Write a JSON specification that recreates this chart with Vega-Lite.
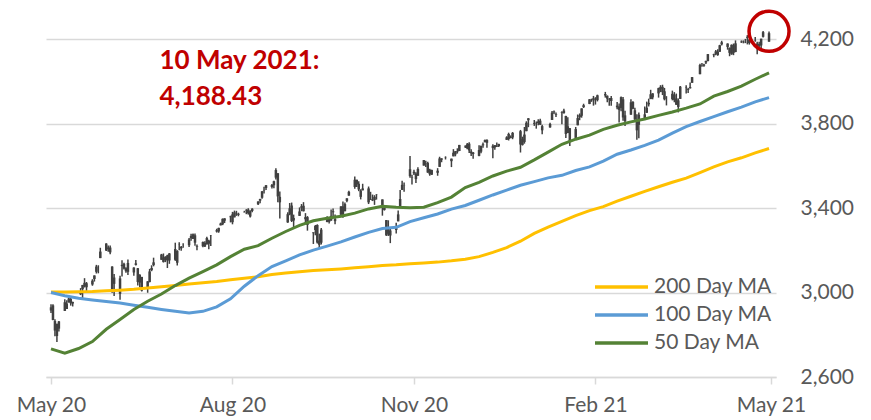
{
"$schema": "https://vega.github.io/schema/vega-lite/v6.json",
"width": 730, "height": 359,
"autosize": {"type": "none"},
"padding": {"left": 46, "top": 18, "right": 95, "bottom": 43},
"background": "white",
"config": {"view": {"stroke": null}, "font": "Lato"},
"datasets": {
"ohlc": [
{"d":"2020-05-11","o":2915,"h":2944,"l":2903,"c":2930},
{"d":"2020-05-12","o":2939,"h":2945,"l":2869,"c":2870},
{"d":"2020-05-13","o":2865,"h":2874,"l":2793,"c":2820},
{"d":"2020-05-14","o":2794,"h":2852,"l":2766,"c":2852},
{"d":"2020-05-15","o":2829,"h":2865,"l":2816,"c":2863},
{"d":"2020-05-18","o":2913,"h":2968,"l":2913,"c":2954},
{"d":"2020-05-19","o":2948,"h":2964,"l":2922,"c":2922},
{"d":"2020-05-20","o":2953,"h":2981,"l":2953,"c":2972},
{"d":"2020-05-21","o":2970,"h":2978,"l":2938,"c":2949},
{"d":"2020-05-22","o":2948,"h":2957,"l":2934,"c":2955},
{"d":"2020-05-26","o":3004,"h":3021,"l":2988,"c":2992},
{"d":"2020-05-27","o":3016,"h":3036,"l":2970,"c":3036},
{"d":"2020-05-28","o":3046,"h":3068,"l":3024,"c":3030},
{"d":"2020-05-29","o":3025,"h":3050,"l":2998,"c":3044},
{"d":"2020-06-01","o":3038,"h":3063,"l":3032,"c":3056},
{"d":"2020-06-02","o":3064,"h":3081,"l":3052,"c":3081},
{"d":"2020-06-03","o":3098,"h":3131,"l":3090,"c":3123},
{"d":"2020-06-04","o":3112,"h":3129,"l":3091,"c":3112},
{"d":"2020-06-05","o":3163,"h":3212,"l":3163,"c":3194},
{"d":"2020-06-08","o":3199,"h":3233,"l":3197,"c":3232},
{"d":"2020-06-09","o":3213,"h":3223,"l":3193,"c":3207},
{"d":"2020-06-10","o":3213,"h":3223,"l":3181,"c":3190},
{"d":"2020-06-11","o":3123,"h":3124,"l":2999,"c":3002},
{"d":"2020-06-12","o":3071,"h":3088,"l":2984,"c":3041},
{"d":"2020-06-15","o":2994,"h":3079,"l":2966,"c":3067},
{"d":"2020-06-16","o":3131,"h":3153,"l":3076,"c":3125},
{"d":"2020-06-17","o":3136,"h":3141,"l":3109,"c":3113},
{"d":"2020-06-18","o":3101,"h":3120,"l":3094,"c":3115},
{"d":"2020-06-19","o":3140,"h":3156,"l":3083,"c":3098},
{"d":"2020-06-22","o":3095,"h":3120,"l":3079,"c":3118},
{"d":"2020-06-23","o":3138,"h":3154,"l":3128,"c":3131},
{"d":"2020-06-24","o":3115,"h":3116,"l":3033,"c":3050},
{"d":"2020-06-25","o":3047,"h":3086,"l":3025,"c":3084},
{"d":"2020-06-26","o":3074,"h":3074,"l":3005,"c":3009},
{"d":"2020-06-29","o":3019,"h":3054,"l":2999,"c":3053},
{"d":"2020-06-30","o":3050,"h":3112,"l":3048,"c":3100},
{"d":"2020-07-01","o":3106,"h":3129,"l":3101,"c":3116},
{"d":"2020-07-02","o":3143,"h":3165,"l":3124,"c":3130},
{"d":"2020-07-06","o":3155,"h":3183,"l":3155,"c":3180},
{"d":"2020-07-07","o":3166,"h":3185,"l":3142,"c":3145},
{"d":"2020-07-08","o":3154,"h":3172,"l":3144,"c":3169},
{"d":"2020-07-09","o":3176,"h":3179,"l":3116,"c":3152},
{"d":"2020-07-10","o":3152,"h":3187,"l":3136,"c":3185},
{"d":"2020-07-13","o":3206,"h":3236,"l":3150,"c":3155},
{"d":"2020-07-14","o":3141,"h":3200,"l":3128,"c":3197},
{"d":"2020-07-15","o":3226,"h":3238,"l":3200,"c":3227},
{"d":"2020-07-16","o":3209,"h":3220,"l":3198,"c":3216},
{"d":"2020-07-17","o":3225,"h":3233,"l":3212,"c":3225},
{"d":"2020-07-20","o":3224,"h":3258,"l":3216,"c":3251},
{"d":"2020-07-21","o":3268,"h":3278,"l":3245,"c":3257},
{"d":"2020-07-22","o":3254,"h":3280,"l":3253,"c":3276},
{"d":"2020-07-23","o":3271,"h":3279,"l":3222,"c":3236},
{"d":"2020-07-24","o":3219,"h":3228,"l":3200,"c":3216},
{"d":"2020-07-27","o":3219,"h":3242,"l":3215,"c":3239},
{"d":"2020-07-28","o":3235,"h":3243,"l":3216,"c":3218},
{"d":"2020-07-29","o":3228,"h":3264,"l":3227,"c":3258},
{"d":"2020-07-30","o":3231,"h":3250,"l":3205,"c":3246},
{"d":"2020-07-31","o":3270,"h":3272,"l":3220,"c":3271},
{"d":"2020-08-03","o":3289,"h":3302,"l":3284,"c":3295},
{"d":"2020-08-04","o":3289,"h":3307,"l":3283,"c":3306},
{"d":"2020-08-05","o":3318,"h":3331,"l":3318,"c":3327},
{"d":"2020-08-06","o":3323,"h":3351,"l":3319,"c":3349},
{"d":"2020-08-07","o":3340,"h":3352,"l":3329,"c":3351},
{"d":"2020-08-10","o":3357,"h":3364,"l":3332,"c":3360},
{"d":"2020-08-11","o":3370,"h":3382,"l":3323,"c":3333},
{"d":"2020-08-12","o":3356,"h":3388,"l":3356,"c":3380},
{"d":"2020-08-13","o":3372,"h":3387,"l":3363,"c":3373},
{"d":"2020-08-14","o":3368,"h":3378,"l":3361,"c":3373},
{"d":"2020-08-17","o":3380,"h":3387,"l":3379,"c":3381},
{"d":"2020-08-18","o":3388,"h":3395,"l":3371,"c":3390},
{"d":"2020-08-19","o":3393,"h":3399,"l":3369,"c":3375},
{"d":"2020-08-20","o":3360,"h":3390,"l":3355,"c":3385},
{"d":"2020-08-21","o":3386,"h":3399,"l":3380,"c":3397},
{"d":"2020-08-24","o":3418,"h":3432,"l":3414,"c":3431},
{"d":"2020-08-25","o":3435,"h":3444,"l":3423,"c":3443},
{"d":"2020-08-26","o":3449,"h":3481,"l":3444,"c":3479},
{"d":"2020-08-27","o":3486,"h":3501,"l":3469,"c":3484},
{"d":"2020-08-28","o":3495,"h":3509,"l":3485,"c":3508},
{"d":"2020-08-31","o":3509,"h":3514,"l":3493,"c":3500},
{"d":"2020-09-01","o":3508,"h":3529,"l":3494,"c":3527},
{"d":"2020-09-02","o":3544,"h":3588,"l":3535,"c":3580},
{"d":"2020-09-03","o":3565,"h":3565,"l":3427,"c":3455},
{"d":"2020-09-04","o":3453,"h":3479,"l":3350,"c":3427},
{"d":"2020-09-08","o":3371,"h":3380,"l":3330,"c":3332},
{"d":"2020-09-09","o":3370,"h":3424,"l":3366,"c":3399},
{"d":"2020-09-10","o":3412,"h":3426,"l":3334,"c":3339},
{"d":"2020-09-11","o":3353,"h":3369,"l":3310,"c":3341},
{"d":"2020-09-14","o":3363,"h":3403,"l":3363,"c":3384},
{"d":"2020-09-15","o":3408,"h":3419,"l":3385,"c":3401},
{"d":"2020-09-16","o":3411,"h":3428,"l":3384,"c":3385},
{"d":"2020-09-17","o":3347,"h":3376,"l":3328,"c":3357},
{"d":"2020-09-18","o":3357,"h":3362,"l":3293,"c":3320},
{"d":"2020-09-21","o":3285,"h":3285,"l":3230,"c":3281},
{"d":"2020-09-22","o":3296,"h":3320,"l":3271,"c":3315},
{"d":"2020-09-23","o":3320,"h":3323,"l":3232,"c":3237},
{"d":"2020-09-24","o":3226,"h":3279,"l":3209,"c":3246},
{"d":"2020-09-25","o":3236,"h":3306,"l":3228,"c":3298},
{"d":"2020-09-28","o":3334,"h":3361,"l":3333,"c":3351},
{"d":"2020-09-29","o":3350,"h":3357,"l":3327,"c":3335},
{"d":"2020-09-30","o":3341,"h":3393,"l":3340,"c":3363},
{"d":"2020-10-01","o":3385,"h":3398,"l":3362,"c":3380},
{"d":"2020-10-02","o":3338,"h":3369,"l":3323,"c":3348},
{"d":"2020-10-05","o":3368,"h":3409,"l":3368,"c":3408},
{"d":"2020-10-06","o":3408,"h":3431,"l":3354,"c":3361},
{"d":"2020-10-07","o":3385,"h":3426,"l":3385,"c":3419},
{"d":"2020-10-08","o":3434,"h":3447,"l":3428,"c":3446},
{"d":"2020-10-09","o":3459,"h":3482,"l":3458,"c":3477},
{"d":"2020-10-12","o":3500,"h":3550,"l":3492,"c":3534},
{"d":"2020-10-13","o":3534,"h":3534,"l":3500,"c":3512},
{"d":"2020-10-14","o":3515,"h":3527,"l":3480,"c":3488},
{"d":"2020-10-15","o":3453,"h":3489,"l":3441,"c":3483},
{"d":"2020-10-16","o":3493,"h":3515,"l":3484,"c":3484},
{"d":"2020-10-19","o":3493,"h":3502,"l":3419,"c":3427},
{"d":"2020-10-20","o":3439,"h":3477,"l":3439,"c":3443},
{"d":"2020-10-21","o":3439,"h":3464,"l":3433,"c":3436},
{"d":"2020-10-22","o":3438,"h":3461,"l":3415,"c":3453},
{"d":"2020-10-23","o":3464,"h":3466,"l":3440,"c":3465},
{"d":"2020-10-26","o":3441,"h":3441,"l":3364,"c":3401},
{"d":"2020-10-27","o":3404,"h":3409,"l":3388,"c":3391},
{"d":"2020-10-28","o":3343,"h":3343,"l":3268,"c":3271},
{"d":"2020-10-29","o":3278,"h":3342,"l":3268,"c":3310},
{"d":"2020-10-30","o":3294,"h":3305,"l":3234,"c":3270},
{"d":"2020-11-02","o":3296,"h":3330,"l":3279,"c":3310},
{"d":"2020-11-03","o":3337,"h":3389,"l":3337,"c":3370},
{"d":"2020-11-04","o":3406,"h":3486,"l":3405,"c":3443},
{"d":"2020-11-05","o":3486,"h":3529,"l":3486,"c":3510},
{"d":"2020-11-06","o":3508,"h":3521,"l":3477,"c":3509},
{"d":"2020-11-09","o":3584,"h":3646,"l":3544,"c":3551},
{"d":"2020-11-10","o":3543,"h":3558,"l":3511,"c":3545},
{"d":"2020-11-11","o":3564,"h":3581,"l":3557,"c":3572},
{"d":"2020-11-12","o":3563,"h":3570,"l":3519,"c":3537},
{"d":"2020-11-13","o":3553,"h":3593,"l":3553,"c":3585},
{"d":"2020-11-16","o":3601,"h":3628,"l":3601,"c":3627},
{"d":"2020-11-17","o":3611,"h":3624,"l":3595,"c":3610},
{"d":"2020-11-18","o":3613,"h":3619,"l":3567,"c":3568},
{"d":"2020-11-19","o":3560,"h":3586,"l":3553,"c":3582},
{"d":"2020-11-20","o":3580,"h":3582,"l":3557,"c":3558},
{"d":"2020-11-23","o":3567,"h":3589,"l":3553,"c":3577},
{"d":"2020-11-24","o":3595,"h":3643,"l":3595,"c":3635},
{"d":"2020-11-25","o":3635,"h":3636,"l":3617,"c":3629},
{"d":"2020-11-27","o":3639,"h":3645,"l":3630,"c":3638},
{"d":"2020-11-30","o":3634,"h":3634,"l":3594,"c":3622},
{"d":"2020-12-01","o":3645,"h":3679,"l":3645,"c":3662},
{"d":"2020-12-02","o":3654,"h":3670,"l":3645,"c":3669},
{"d":"2020-12-03","o":3669,"h":3683,"l":3658,"c":3666},
{"d":"2020-12-04","o":3670,"h":3699,"l":3670,"c":3699},
{"d":"2020-12-07","o":3694,"h":3698,"l":3684,"c":3692},
{"d":"2020-12-08","o":3683,"h":3708,"l":3678,"c":3702},
{"d":"2020-12-09","o":3705,"h":3712,"l":3661,"c":3673},
{"d":"2020-12-10","o":3659,"h":3678,"l":3646,"c":3668},
{"d":"2020-12-11","o":3656,"h":3665,"l":3634,"c":3663},
{"d":"2020-12-14","o":3675,"h":3697,"l":3645,"c":3647},
{"d":"2020-12-15","o":3667,"h":3695,"l":3660,"c":3695},
{"d":"2020-12-16","o":3697,"h":3711,"l":3686,"c":3702},
{"d":"2020-12-17","o":3713,"h":3725,"l":3710,"c":3722},
{"d":"2020-12-18","o":3722,"h":3726,"l":3685,"c":3709},
{"d":"2020-12-21","o":3684,"h":3702,"l":3636,"c":3695},
{"d":"2020-12-22","o":3698,"h":3698,"l":3676,"c":3687},
{"d":"2020-12-23","o":3693,"h":3711,"l":3689,"c":3690},
{"d":"2020-12-24","o":3694,"h":3704,"l":3689,"c":3703},
{"d":"2020-12-28","o":3723,"h":3740,"l":3723,"c":3735},
{"d":"2020-12-29","o":3751,"h":3757,"l":3720,"c":3727},
{"d":"2020-12-30","o":3736,"h":3744,"l":3730,"c":3732},
{"d":"2020-12-31","o":3734,"h":3760,"l":3726,"c":3756},
{"d":"2021-01-04","o":3764,"h":3770,"l":3663,"c":3701},
{"d":"2021-01-05","o":3699,"h":3738,"l":3696,"c":3727},
{"d":"2021-01-06","o":3713,"h":3784,"l":3705,"c":3748},
{"d":"2021-01-07","o":3764,"h":3811,"l":3764,"c":3804},
{"d":"2021-01-08","o":3816,"h":3826,"l":3783,"c":3825},
{"d":"2021-01-11","o":3803,"h":3817,"l":3789,"c":3799},
{"d":"2021-01-12","o":3801,"h":3810,"l":3776,"c":3801},
{"d":"2021-01-13","o":3802,"h":3820,"l":3792,"c":3810},
{"d":"2021-01-14","o":3814,"h":3823,"l":3793,"c":3795},
{"d":"2021-01-15","o":3788,"h":3795,"l":3750,"c":3768},
{"d":"2021-01-19","o":3782,"h":3804,"l":3780,"c":3798},
{"d":"2021-01-20","o":3817,"h":3860,"l":3817,"c":3852},
{"d":"2021-01-21","o":3857,"h":3862,"l":3845,"c":3853},
{"d":"2021-01-22","o":3844,"h":3852,"l":3831,"c":3841},
{"d":"2021-01-25","o":3852,"h":3859,"l":3797,"c":3855},
{"d":"2021-01-26","o":3862,"h":3870,"l":3848,"c":3849},
{"d":"2021-01-27","o":3836,"h":3837,"l":3732,"c":3751},
{"d":"2021-01-28","o":3755,"h":3830,"l":3755,"c":3787},
{"d":"2021-01-29","o":3778,"h":3779,"l":3694,"c":3714},
{"d":"2021-02-01","o":3732,"h":3784,"l":3725,"c":3774},
{"d":"2021-02-02","o":3792,"h":3843,"l":3792,"c":3826},
{"d":"2021-02-03","o":3840,"h":3848,"l":3816,"c":3830},
{"d":"2021-02-04","o":3837,"h":3872,"l":3828,"c":3872},
{"d":"2021-02-05","o":3878,"h":3894,"l":3874,"c":3887},
{"d":"2021-02-08","o":3893,"h":3916,"l":3892,"c":3915},
{"d":"2021-02-09","o":3911,"h":3918,"l":3903,"c":3911},
{"d":"2021-02-10","o":3920,"h":3931,"l":3885,"c":3910},
{"d":"2021-02-11","o":3917,"h":3925,"l":3890,"c":3917},
{"d":"2021-02-12","o":3911,"h":3937,"l":3905,"c":3934},
{"d":"2021-02-16","o":3940,"h":3950,"l":3923,"c":3933},
{"d":"2021-02-17","o":3918,"h":3933,"l":3901,"c":3932},
{"d":"2021-02-18","o":3915,"h":3921,"l":3885,"c":3913},
{"d":"2021-02-19","o":3921,"h":3931,"l":3885,"c":3907},
{"d":"2021-02-22","o":3885,"h":3902,"l":3868,"c":3877},
{"d":"2021-02-23","o":3865,"h":3895,"l":3805,"c":3881},
{"d":"2021-02-24","o":3874,"h":3928,"l":3859,"c":3925},
{"d":"2021-02-25","o":3915,"h":3926,"l":3814,"c":3829},
{"d":"2021-02-26","o":3839,"h":3861,"l":3789,"c":3811},
{"d":"2021-03-01","o":3842,"h":3915,"l":3842,"c":3901},
{"d":"2021-03-02","o":3903,"h":3906,"l":3868,"c":3870},
{"d":"2021-03-03","o":3863,"h":3875,"l":3817,"c":3820},
{"d":"2021-03-04","o":3818,"h":3844,"l":3723,"c":3768},
{"d":"2021-03-05","o":3794,"h":3852,"l":3730,"c":3842},
{"d":"2021-03-08","o":3844,"h":3881,"l":3819,"c":3821},
{"d":"2021-03-09","o":3851,"h":3904,"l":3851,"c":3875},
{"d":"2021-03-10","o":3891,"h":3918,"l":3881,"c":3898},
{"d":"2021-03-11","o":3916,"h":3960,"l":3916,"c":3939},
{"d":"2021-03-12","o":3924,"h":3944,"l":3915,"c":3943},
{"d":"2021-03-15","o":3943,"h":3970,"l":3923,"c":3968},
{"d":"2021-03-16","o":3974,"h":3982,"l":3949,"c":3963},
{"d":"2021-03-17","o":3949,"h":3984,"l":3935,"c":3974},
{"d":"2021-03-18","o":3953,"h":3969,"l":3910,"c":3915},
{"d":"2021-03-19","o":3913,"h":3930,"l":3886,"c":3913},
{"d":"2021-03-22","o":3916,"h":3956,"l":3910,"c":3941},
{"d":"2021-03-23","o":3937,"h":3949,"l":3901,"c":3911},
{"d":"2021-03-24","o":3919,"h":3942,"l":3889,"c":3889},
{"d":"2021-03-25","o":3879,"h":3919,"l":3853,"c":3910},
{"d":"2021-03-26","o":3917,"h":3978,"l":3917,"c":3975},
{"d":"2021-03-29","o":3969,"h":3982,"l":3943,"c":3971},
{"d":"2021-03-30","o":3963,"h":3969,"l":3945,"c":3959},
{"d":"2021-03-31","o":3967,"h":3995,"l":3966,"c":3973},
{"d":"2021-04-01","o":3993,"h":4021,"l":3993,"c":4020},
{"d":"2021-04-05","o":4034,"h":4083,"l":4034,"c":4078},
{"d":"2021-04-06","o":4075,"h":4087,"l":4069,"c":4074},
{"d":"2021-04-07","o":4074,"h":4083,"l":4069,"c":4080},
{"d":"2021-04-08","o":4089,"h":4098,"l":4082,"c":4097},
{"d":"2021-04-09","o":4096,"h":4129,"l":4095,"c":4129},
{"d":"2021-04-12","o":4124,"h":4131,"l":4114,"c":4128},
{"d":"2021-04-13","o":4130,"h":4148,"l":4124,"c":4142},
{"d":"2021-04-14","o":4141,"h":4152,"l":4121,"c":4125},
{"d":"2021-04-15","o":4140,"h":4173,"l":4140,"c":4171},
{"d":"2021-04-16","o":4175,"h":4192,"l":4170,"c":4185},
{"d":"2021-04-19","o":4179,"h":4180,"l":4150,"c":4163},
{"d":"2021-04-20","o":4159,"h":4160,"l":4119,"c":4135},
{"d":"2021-04-21","o":4128,"h":4175,"l":4126,"c":4173},
{"d":"2021-04-22","o":4171,"h":4179,"l":4124,"c":4135},
{"d":"2021-04-23","o":4139,"h":4194,"l":4138,"c":4180},
{"d":"2021-04-26","o":4185,"h":4194,"l":4182,"c":4188},
{"d":"2021-04-27","o":4188,"h":4194,"l":4180,"c":4187},
{"d":"2021-04-28","o":4185,"h":4201,"l":4181,"c":4184},
{"d":"2021-04-29","o":4206,"h":4219,"l":4175,"c":4211},
{"d":"2021-04-30","o":4198,"h":4199,"l":4174,"c":4181},
{"d":"2021-05-03","o":4192,"h":4210,"l":4188,"c":4193},
{"d":"2021-05-04","o":4179,"h":4187,"l":4128,"c":4165},
{"d":"2021-05-05","o":4177,"h":4188,"l":4161,"c":4168},
{"d":"2021-05-06","o":4170,"h":4202,"l":4148,"c":4202},
{"d":"2021-05-07","o":4211,"h":4238,"l":4208,"c":4233},
{"d":"2021-05-10","o":4228,"h":4236,"l":4188,"c":4188}
],
"ma": [
{"d":"2020-05-11","ma200":3002,"ma100":3000,"ma50":2733},
{"d":"2020-05-18","ma200":3003,"ma100":2985,"ma50":2713},
{"d":"2020-05-25","ma200":3004,"ma100":2973,"ma50":2735},
{"d":"2020-06-01","ma200":3005,"ma100":2965,"ma50":2768},
{"d":"2020-06-08","ma200":3008,"ma100":2958,"ma50":2826},
{"d":"2020-06-15","ma200":3011,"ma100":2950,"ma50":2872},
{"d":"2020-06-22","ma200":3015,"ma100":2940,"ma50":2920},
{"d":"2020-06-29","ma200":3021,"ma100":2930,"ma50":2959},
{"d":"2020-07-06","ma200":3027,"ma100":2920,"ma50":2993},
{"d":"2020-07-13","ma200":3033,"ma100":2911,"ma50":3033},
{"d":"2020-07-20","ma200":3040,"ma100":2903,"ma50":3068},
{"d":"2020-07-27","ma200":3046,"ma100":2911,"ma50":3099},
{"d":"2020-08-03","ma200":3052,"ma100":2932,"ma50":3131},
{"d":"2020-08-10","ma200":3060,"ma100":2970,"ma50":3170},
{"d":"2020-08-17","ma200":3068,"ma100":3030,"ma50":3205},
{"d":"2020-08-24","ma200":3075,"ma100":3080,"ma50":3222},
{"d":"2020-08-31","ma200":3085,"ma100":3123,"ma50":3257},
{"d":"2020-09-07","ma200":3092,"ma100":3150,"ma50":3289},
{"d":"2020-09-14","ma200":3098,"ma100":3178,"ma50":3318},
{"d":"2020-09-21","ma200":3104,"ma100":3201,"ma50":3340},
{"d":"2020-09-28","ma200":3108,"ma100":3220,"ma50":3352},
{"d":"2020-10-05","ma200":3112,"ma100":3240,"ma50":3361},
{"d":"2020-10-12","ma200":3117,"ma100":3263,"ma50":3376},
{"d":"2020-10-19","ma200":3122,"ma100":3285,"ma50":3396},
{"d":"2020-10-26","ma200":3128,"ma100":3303,"ma50":3408},
{"d":"2020-11-02","ma200":3131,"ma100":3309,"ma50":3404},
{"d":"2020-11-09","ma200":3136,"ma100":3336,"ma50":3402},
{"d":"2020-11-16","ma200":3140,"ma100":3354,"ma50":3404},
{"d":"2020-11-23","ma200":3144,"ma100":3372,"ma50":3426},
{"d":"2020-11-30","ma200":3150,"ma100":3395,"ma50":3452},
{"d":"2020-12-07","ma200":3158,"ma100":3412,"ma50":3497},
{"d":"2020-12-14","ma200":3170,"ma100":3437,"ma50":3522},
{"d":"2020-12-21","ma200":3190,"ma100":3462,"ma50":3552},
{"d":"2020-12-28","ma200":3213,"ma100":3485,"ma50":3575},
{"d":"2021-01-04","ma200":3243,"ma100":3508,"ma50":3593},
{"d":"2021-01-11","ma200":3280,"ma100":3525,"ma50":3628},
{"d":"2021-01-18","ma200":3310,"ma100":3543,"ma50":3665},
{"d":"2021-01-25","ma200":3337,"ma100":3555,"ma50":3702},
{"d":"2021-02-01","ma200":3364,"ma100":3578,"ma50":3726},
{"d":"2021-02-08","ma200":3388,"ma100":3595,"ma50":3745},
{"d":"2021-02-15","ma200":3407,"ma100":3622,"ma50":3773},
{"d":"2021-02-22","ma200":3433,"ma100":3655,"ma50":3792},
{"d":"2021-03-01","ma200":3456,"ma100":3675,"ma50":3808},
{"d":"2021-03-08","ma200":3479,"ma100":3697,"ma50":3822},
{"d":"2021-03-15","ma200":3501,"ma100":3722,"ma50":3839},
{"d":"2021-03-22","ma200":3522,"ma100":3755,"ma50":3855},
{"d":"2021-03-29","ma200":3542,"ma100":3786,"ma50":3873},
{"d":"2021-04-05","ma200":3568,"ma100":3810,"ma50":3893},
{"d":"2021-04-12","ma200":3595,"ma100":3833,"ma50":3930},
{"d":"2021-04-19","ma200":3619,"ma100":3856,"ma50":3952},
{"d":"2021-04-26","ma200":3638,"ma100":3878,"ma50":3977},
{"d":"2021-05-03","ma200":3661,"ma100":3903,"ma50":4010},
{"d":"2021-05-10","ma200":3682,"ma100":3923,"ma50":4040}
]
},
"layer": [
{
"data": {"name": "ohlc"},
"mark": {"type": "rule", "color": "#404040", "strokeWidth": 1.5},
"encoding": {
"x": {"field": "d", "type": "temporal",
"scale": {"type": "utc", "domain": [{"year": 2020, "month": 5, "date": 11, "utc": true}, {"year": 2021, "month": 5, "date": 11, "utc": true}]},
"axis": {"title": null, "values": [{"year": 2020, "month": 5, "date": 11, "utc": true}, {"year": 2020, "month": 8, "date": 11, "utc": true}, {"year": 2020, "month": 11, "date": 11, "utc": true}, {"year": 2021, "month": 2, "date": 11, "utc": true}, {"year": 2021, "month": 5, "date": 11, "utc": true}],
"format": "%b %y", "grid": false, "domain": true, "domainColor": "#D9D9D9", "domainWidth": 1.5,
"ticks": true, "tickColor": "#D9D9D9", "tickWidth": 1.5, "tickSize": 7,
"labelFont": "Lato", "labelFontSize": 21, "labelColor": "#595959", "labelPadding": 10, "labelFlush": false, "labelOverlap": false}},
"y": {"field": "l", "type": "quantitative",
"scale": {"domain": [2600, 4300], "nice": false, "zero": false},
"axis": {"orient": "right", "title": null, "values": [2600, 3000, 3400, 3800, 4200], "format": ",.0f",
"grid": true, "gridColor": "#D9D9D9", "gridWidth": 1.5, "domain": false, "ticks": false,
"labelFont": "Lato", "labelFontSize": 21, "labelColor": "#595959", "labelPadding": 24}},
"y2": {"field": "h"}
}
},
{
"data": {"name": "ohlc"},
"mark": {"type": "bar", "color": "#404040", "size": 2.5},
"encoding": {
"x": {"field": "d", "type": "temporal"},
"y": {"field": "o", "type": "quantitative"},
"y2": {"field": "c"}
}
},
{
"data": {"name": "ma"},
"transform": [{"fold": ["ma200", "ma100", "ma50"], "as": ["s", "v"]}],
"mark": {"type": "line", "strokeWidth": 3},
"encoding": {
"x": {"field": "d", "type": "temporal"},
"y": {"field": "v", "type": "quantitative"},
"color": {"field": "s", "type": "nominal",
"scale": {"domain": ["ma200", "ma100", "ma50"], "range": ["#FFC000", "#5B9BD5", "#548235"]},
"legend": {"title": null, "orient": "none", "legendX": 547, "legendY": 255,
"symbolType": "stroke", "symbolSize": 2809, "symbolStrokeWidth": 3.5, "clipHeight": 28, "rowPadding": 0,
"labelFont": "Lato", "labelFontSize": 21, "labelColor": "#595959", "labelOffset": 4,
"labelExpr": "datum.label == 'ma200' ? '200 Day MA' : datum.label == 'ma100' ? '100 Day MA' : '50 Day MA'"}}
}
},
{
"data": {"values": [{}]},
"mark": {"type": "text", "text": "10 May 2021:", "font": "Lato", "fontWeight": "bold", "fontSize": 26, "color": "#C00000", "align": "left", "baseline": "alphabetic"},
"encoding": {
"x": {"datum": {"year": 2020, "month": 7, "date": 5, "utc": true}, "type": "temporal"},
"y": {"datum": 4057, "type": "quantitative"}
}
},
{
"data": {"values": [{}]},
"mark": {"type": "text", "text": "4,188.43", "font": "Lato", "fontWeight": "bold", "fontSize": 26, "color": "#C00000", "align": "left", "baseline": "alphabetic"},
"encoding": {
"x": {"datum": {"year": 2020, "month": 7, "date": 5, "utc": true}, "type": "temporal"},
"y": {"datum": 3888, "type": "quantitative"}
}
},
{
"data": {"values": [{}]},
"mark": {"type": "point", "shape": "circle", "filled": false, "size": 1600, "strokeWidth": 3.5, "color": "#C00000", "opacity": 1},
"encoding": {
"x": {"datum": {"year": 2021, "month": 5, "date": 10, "utc": true}, "type": "temporal"},
"y": {"datum": 4237, "type": "quantitative"}
}
}
]
}
